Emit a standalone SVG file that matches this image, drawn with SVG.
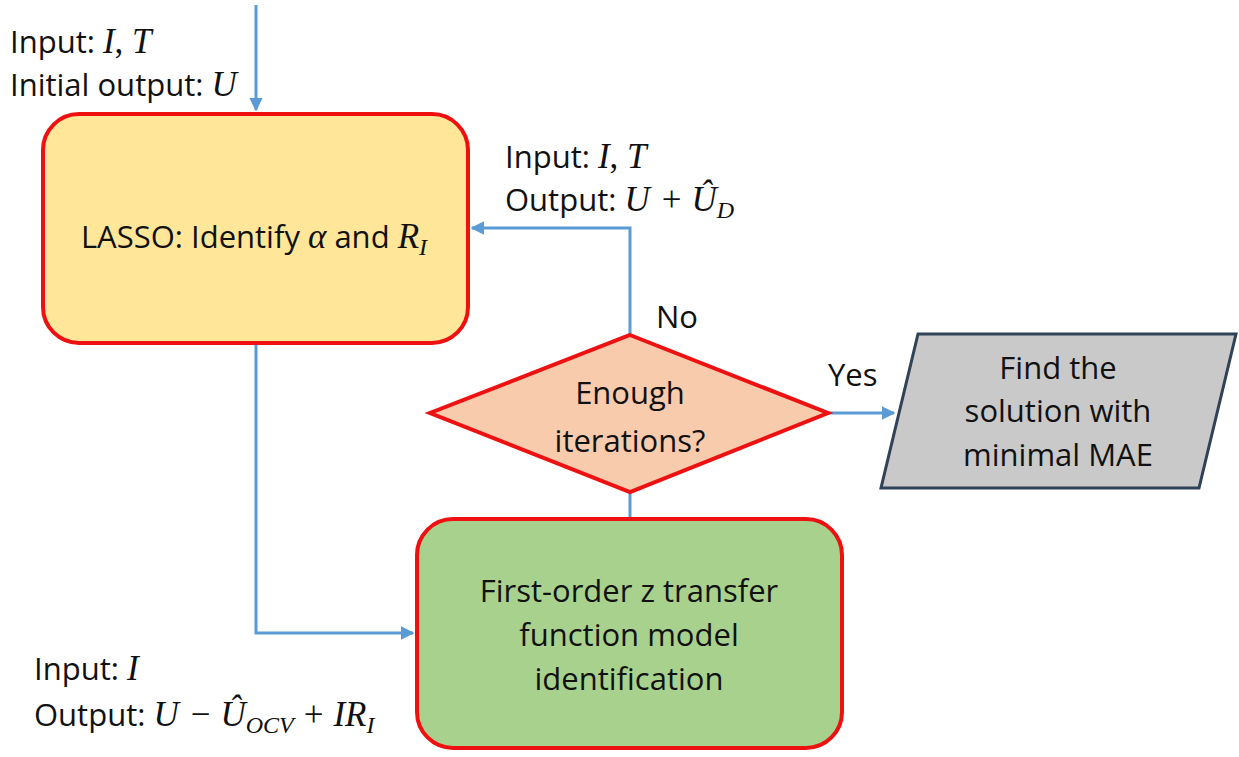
<svg xmlns="http://www.w3.org/2000/svg" width="1239" height="757" viewBox="0 0 1239 757">
  <style>
    .lbl { font-family: "Open Sans", "Liberation Sans", sans-serif; font-size: 31px; fill: #111; }
    .mid { text-anchor: middle; }
    .m { font-family: "Liberation Serif", "DejaVu Serif", serif; font-style: italic; font-size: 35px; }
    .sub { font-family: "Liberation Serif", "DejaVu Serif", serif; font-style: italic; font-size: 24px; }
    .op { font-family: "Liberation Serif", "DejaVu Serif", serif; font-size: 35px; }
    .edge { fill: none; stroke: #5B9BD5; stroke-width: 3; }
    .box { stroke: #EE1111; stroke-width: 4; }
  </style>
  <defs>
    <marker id="arrow" viewBox="0 0 10 10" refX="9" refY="5" markerWidth="4.5" markerHeight="4.5" orient="auto" markerUnits="strokeWidth">
      <path d="M0,0 L10,5 L0,10 z" fill="#5B9BD5"/>
    </marker>
  </defs>
  <rect width="1239" height="757" fill="#FFFFFF"/>

  <!-- connectors -->
  <g id="connectors">
    <path class="edge" d="M256,5 V110" marker-end="url(#arrow)"/>
    <path class="edge" d="M630,335 V228 H472" marker-end="url(#arrow)"/>
    <path class="edge" d="M828,413 H894" marker-end="url(#arrow)"/>
    <path class="edge" d="M630,492 V518"/>
    <path class="edge" d="M256,344 V633 H413" marker-end="url(#arrow)"/>
  </g>

  <!-- LASSO identification -->
  <g id="lasso">
    <rect class="box" x="43" y="114" width="425" height="229" rx="36" fill="#FFE699"/>
    <text class="lbl mid" x="254" y="248">LASSO: Identify <tspan class="m">α</tspan> and <tspan class="m">R</tspan><tspan class="sub" dy="7">I</tspan></text>
  </g>

  <!-- iteration check -->
  <g id="decision">
    <polygon class="box" points="630,335 828,413 630,492 430,413" fill="#F8CBAD"/>
    <text class="lbl mid" x="630" y="404">Enough</text>
    <text class="lbl mid" x="630" y="452">iterations?</text>
  </g>

  <!-- result -->
  <g id="result">
    <polygon points="918,334 1236,334 1199,488 881,488" fill="#C9C9C9" stroke="#2F4256" stroke-width="3"/>
    <text class="lbl mid" x="1058" y="379">Find the</text>
    <text class="lbl mid" x="1058" y="422">solution with</text>
    <text class="lbl mid" x="1058" y="466">minimal MAE</text>
  </g>

  <!-- transfer function model -->
  <g id="tf-model">
    <rect class="box" x="417" y="519" width="425" height="229" rx="36" fill="#A9D18E"/>
    <text class="lbl mid" x="629" y="602">First-order z transfer</text>
    <text class="lbl mid" x="629" y="646">function model</text>
    <text class="lbl mid" x="629" y="690">identification</text>
  </g>

  <!-- annotations -->
  <g id="labels">
    <text class="lbl" x="10" y="53">Input: <tspan class="m">I</tspan><tspan class="op">, </tspan><tspan class="m">T</tspan></text>
    <text class="lbl" x="10" y="96">Initial output: <tspan class="m">U</tspan></text>
    <text class="lbl" x="505" y="168">Input: <tspan class="m">I</tspan><tspan class="op">, </tspan><tspan class="m">T</tspan></text>
    <text class="lbl" x="505" y="211">Output: <tspan class="m">U</tspan><tspan class="op" dx="12">+</tspan><tspan class="m" dx="10">Û</tspan><tspan class="sub" dy="7">D</tspan></text>
    <text class="lbl" x="656" y="328">No</text>
    <text class="lbl" x="828" y="386">Yes</text>
    <text class="lbl" x="34" y="680">Input: <tspan class="m">I</tspan></text>
    <text class="lbl" x="34" y="726">Output: <tspan class="m">U</tspan><tspan class="op" dx="12">−</tspan><tspan class="m" dx="10">Û</tspan><tspan class="sub" dy="7">OCV</tspan><tspan class="op" dx="10" dy="-7">+</tspan><tspan class="m" dx="10">IR</tspan><tspan class="sub" dy="7">I</tspan></text>
  </g>
</svg>
